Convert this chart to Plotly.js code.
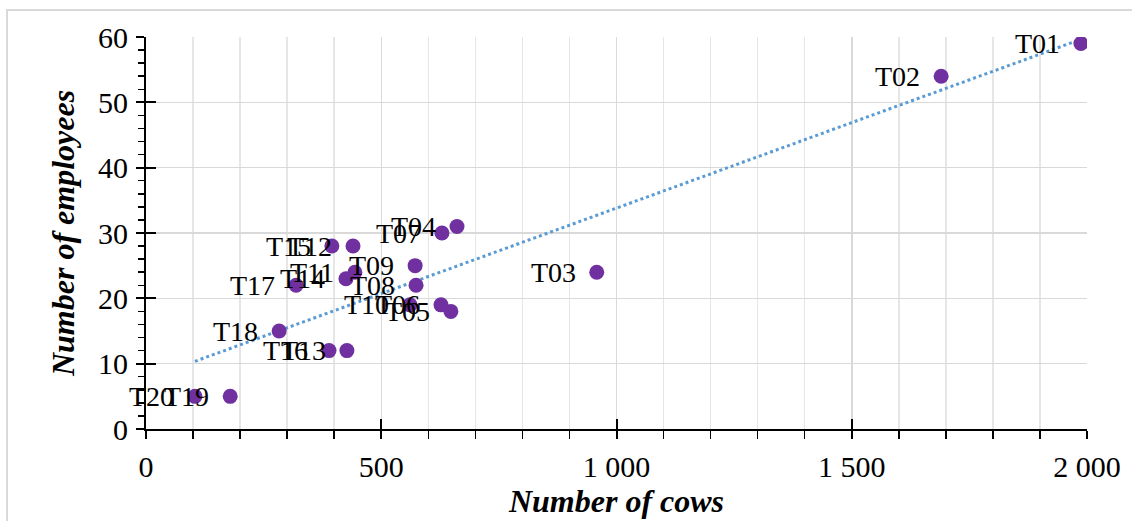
<!DOCTYPE html>
<html>
<head>
<meta charset="utf-8">
<script src="https://cdn.plot.ly/plotly-3.0.1.min.js"></script>
<style>html,body{margin:0;padding:0;background:#fff;}#chart{width:1132px;height:521px;}</style>
</head>
<body>
<div id="chart"></div>
<script>
const farmLabels = ["T01","T02","T03","T04","T05","T06","T07","T08","T09","T10","T11","T12","T13","T14","T15","T16","T17","T18","T19","T20"];
const cows =       [1987, 1690, 958, 661, 648, 627, 629, 574, 572, 561, 444, 440, 427, 425, 395, 389, 319, 283, 179, 104];
const employees =  [59,   54,   24,  31,  18,  19,  30,  22,  25,  19,  24,  28,  12,  23,  28,  12,  22,  15,  5,   5];

// linear trendline (least squares) from the data
const n = cows.length;
const mx = cows.reduce((a,b)=>a+b,0)/n;
const my = employees.reduce((a,b)=>a+b,0)/n;
let sxy=0, sxx=0;
for (let i=0;i<n;i++){ sxy += (cows[i]-mx)*(employees[i]-my); sxx += (cows[i]-mx)**2; }
const slope = sxy/sxx, intercept = my - slope*mx;
const xmin = Math.min(...cows), xmax = Math.max(...cows);
const trendX = [xmin, xmax];
const trendY = trendX.map(x => intercept + slope*x);

const FONT = "Liberation Serif, Times New Roman, serif";

const traces = [
  {x: trendX, y: trendY, mode: 'lines', type: 'scatter', hoverinfo: 'skip',
   line: {color: '#5B9BD5', width: 3, dash: 'dot'}, showlegend: false},
  {x: cows, y: employees, mode: 'markers', type: 'scatter', showlegend: false,
   marker: {color: '#7030A0', size: 15}},
  {x: [null], y: [null], xaxis: 'x2', yaxis: 'y2', mode: 'markers', showlegend: false, hoverinfo: 'skip'}
];

const annotations = farmLabels.map((t,i) => ({
  x: cows[i], y: employees[i], text: t, showarrow: false,
  xanchor: 'right', yanchor: 'middle', xshift: -19,
  font: {family: FONT, size: 28, color: '#000'}
}));

const layout = {
  width: 1132, height: 521,
  margin: {l: 146, r: 45, t: 37, b: 92},
  paper_bgcolor: '#fff', plot_bgcolor: '#fff',
  separators: '. ',
  font: {family: FONT, color: '#000'},
  xaxis: {
    range: [0, 2000], dtick: 500, tick0: 0, tickformat: ',',
    showgrid: true, gridcolor: '#d9d9d9', gridwidth: 1.5,
    showline: true, linecolor: '#000', linewidth: 2,
    ticks: 'outside', ticklen: 8, tickwidth: 2, tickcolor: '#000',
    minor: {dtick: 100, showgrid: true, gridcolor: '#e6e6e6', gridwidth: 1.5, ticks: 'outside', ticklen: 8, tickwidth: 1.5, tickcolor: '#000'},
    zeroline: false, fixedrange: true,
    tickfont: {family: FONT, size: 30, color: '#000'},
    ticklabelstandoff: 2,
    title: {text: '<b><i>Number of cows</i></b>', font: {family: FONT, size: 32, color: '#000'}, standoff: 8},
    automargin: false, mirror: false
  },
  yaxis: {
    range: [0, 60], dtick: 10, tick0: 0,
    showgrid: true, gridcolor: '#d9d9d9', gridwidth: 1.5,
    showline: true, linecolor: '#000', linewidth: 2,
    ticks: 'outside', ticklen: 8, tickwidth: 2, tickcolor: '#000',
    minor: {dtick: 2, showgrid: false, ticks: 'outside', ticklen: 6, tickwidth: 1.5, tickcolor: '#000'},
    zeroline: false, fixedrange: true,
    tickfont: {family: FONT, size: 30, color: '#000'},
    ticklabelstandoff: 2,
    title: {text: '<b><i>Number of employees</i></b>', font: {family: FONT, size: 32, color: '#000'}, standoff: 14},
    automargin: false
  },
  xaxis2: {overlaying: 'x', range: [0, 2000], dtick: 500, tick0: 0, side: 'bottom', anchor: 'y2',
    showgrid: false, zeroline: false, showline: false, showticklabels: false,
    ticks: 'inside', ticklen: 10, tickwidth: 2, tickcolor: '#000', fixedrange: true},
  yaxis2: {overlaying: 'y', range: [0, 60], dtick: 10, tick0: 0, side: 'left', anchor: 'x2',
    showgrid: false, zeroline: false, showline: false, showticklabels: false,
    ticks: 'inside', ticklen: 10, tickwidth: 2, tickcolor: '#000', fixedrange: true},
  annotations: annotations,
  shapes: [
    {type: 'rect', xref: 'paper', yref: 'paper', layer: 'below',
     x0: (7-146)/941, x1: 1.3, y0: -0.4, y1: (429-10)/392,
     line: {color: '#d9d9d9', width: 2}, fillcolor: 'rgba(0,0,0,0)'}
  ]
};

Plotly.newPlot('chart', traces, layout, {displayModeBar: false, staticPlot: true});
</script>
</body>
</html>
